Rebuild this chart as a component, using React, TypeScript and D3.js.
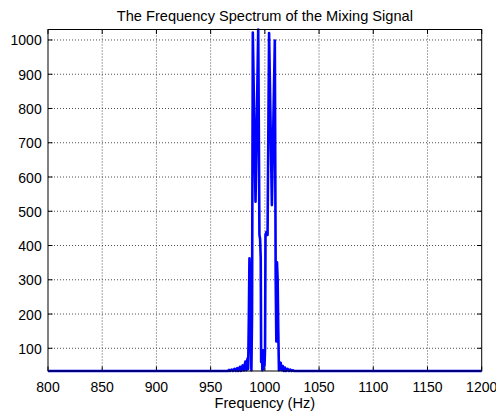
import React from "react";
import * as d3 from "d3";

const FREQ = [800, 900, 960, 966, 967, 968, 969.5, 970.5, 972, 973, 974.5, 975.5, 977, 978, 979.5, 980.5, 982, 983, 984, 984.6, 985.2, 985.8, 986.4, 987.0, 987.6, 988.2, 988.9, 991.4, 993.9, 995.0, 995.6, 996.2, 996.6, 997.2, 997.7, 998.2, 998.7, 999.2, 999.7, 1000.2, 1000.6, 1001.5, 1002.5, 1003.9, 1006.5, 1009.2, 1010.0, 1010.6, 1011.2, 1011.8, 1012.4, 1013.0, 1013.6, 1014.6, 1015.4, 1016.5, 1017.5, 1018.5, 1019.5, 1021, 1022, 1023.5, 1024.5, 1026, 1027, 1040, 1100, 1200];
const MAG = [33.7, 33.7, 33.7, 33.7, 37, 33.7, 38, 33.7, 40, 33.7, 42, 33.7, 46, 33.7, 50, 35, 61, 36, 70, 40, 180, 363, 300, 120, 36, 200, 1022, 528, 1030.6, 431, 420, 364, 60, 95, 36, 90, 40, 95, 50, 100, 431, 440, 431, 1020, 518, 998, 300, 120, 351, 300, 150, 36, 45, 58, 36, 48, 33.7, 44, 33.7, 40, 33.7, 38, 33.7, 36, 33.7, 33.7, 33.7, 33.7];

const X_TICKS = [800, 850, 900, 950, 1000, 1050, 1100, 1150, 1200];
const Y_TICKS = [100, 200, 300, 400, 500, 600, 700, 800, 900, 1000];

const TITLE = "The Frequency Spectrum of the Mixing Signal";
const X_LABEL = "Frequency (Hz)";

const W = 496, H = 417;
const L = 48, R = 481.7, T = 29.5, B = 371;
const FONT = "'Liberation Sans', Arial, Helvetica, sans-serif";

export default function App() {
  const data = FREQ.map((f, i) => [f, MAG[i]] as [number, number]);
  const x = d3.scaleLinear().domain([800, 1200]).range([L, R]);
  const ext = d3.extent(MAG) as [number, number];
  const y = d3.scaleLinear().domain(ext).range([B, T]);
  const line = d3.line<[number, number]>().x(d => x(d[0])).y(d => y(d[1]));
  const tl = 4.5;
  return (
    <svg width={W} height={H} style={{ position: "absolute", left: 0, top: 0, display: "block", background: "#fff" }}>
      <rect x={0} y={0} width={W} height={H} fill="#fff" />
      {/* grid */}
      <g stroke="#222" strokeWidth={0.8} strokeDasharray="1,2">
        {X_TICKS.slice(1, -1).map(t => (
          <line key={"gx" + t} x1={x(t)} x2={x(t)} y1={T} y2={B} />
        ))}
        {Y_TICKS.map(t => (
          <line key={"gy" + t} x1={L} x2={R} y1={y(t)} y2={y(t)} />
        ))}
      </g>
      {/* ticks */}
      <g stroke="#000" strokeWidth={1}>
        {X_TICKS.map(t => (
          <g key={"tx" + t}>
            <line x1={x(t)} x2={x(t)} y1={B} y2={B - tl} />
            <line x1={x(t)} x2={x(t)} y1={T} y2={T + tl} />
          </g>
        ))}
        {Y_TICKS.map(t => (
          <g key={"ty" + t}>
            <line x1={L} x2={L + tl} y1={y(t)} y2={y(t)} />
            <line x1={R} x2={R - tl} y1={y(t)} y2={y(t)} />
          </g>
        ))}
      </g>
      {/* data */}
      <path d={line(data) || ""} fill="none" stroke="#0000ff" strokeWidth={2.6} strokeLinejoin="round" />
      {/* box */}
      <rect x={L} y={T} width={R - L} height={B - T} fill="none" stroke="#000" strokeWidth={1} />
      {/* labels */}
      <g fontFamily={FONT} fontSize={14} fill="#000">
        {X_TICKS.map(t => (
          <text key={"lx" + t} x={x(t)} y={391.7} textAnchor="middle">{t}</text>
        ))}
        {Y_TICKS.map(t => (
          <text key={"ly" + t} x={41.7} y={y(t) + 5.5} textAnchor="end">{t}</text>
        ))}
      </g>
      <text x={(L + R) / 2} y={20.5} textAnchor="middle" fontFamily={FONT} fontSize={14.6} fill="#000">{TITLE}</text>
      <text x={(L + R) / 2} y={408.3} textAnchor="middle" fontFamily={FONT} fontSize={14.6} fill="#000">{X_LABEL}</text>
    </svg>
  );
}
